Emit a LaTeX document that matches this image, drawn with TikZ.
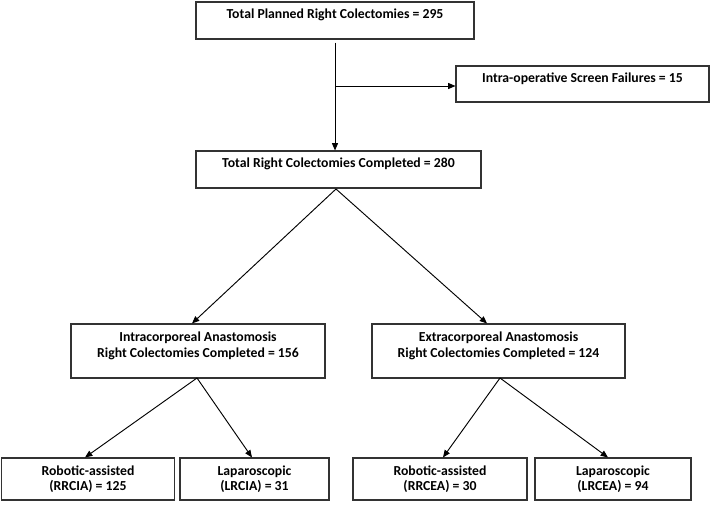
\documentclass[tikz,border=0pt]{standalone}
\usepackage{fontspec}
\setmainfont{Carlito}
\usetikzlibrary{arrows.meta}
\begin{document}
\begin{tikzpicture}[x=0.75pt,y=-0.75pt,
  box/.style={draw=black!80,line width=0.8pt,inner sep=0pt,fill=white},
  txt/.style={inner sep=0pt,align=center,font=\bfseries\fontsize{10.3}{12}\selectfont},
  txtb/.style={inner sep=0pt,align=center,font=\bfseries\fontsize{10.3}{11.3}\selectfont},
  arr/.style={line width=0.7pt,-{Triangle[length=5.5pt,width=4.5pt]}}]
\useasboundingbox[fill=white] (0,0) rectangle (710,504);
% boxes
\node[box,minimum width=208.5pt,minimum height=27.75pt] (top) at (335,20.5) {};
\node[box,minimum width=189.75pt,minimum height=27pt] (fail) at (582.5,84) {};
\node[box,minimum width=213.75pt,minimum height=27.75pt] (tot) at (338.5,169.5) {};
\node[box,minimum width=190.5pt,minimum height=40.5pt] (intra) at (198,351) {};
\node[box,minimum width=189.75pt,minimum height=40.5pt] (extra) at (498.5,351) {};
\node[box,minimum width=129.4pt,minimum height=31.5pt] (b1) at (88,479) {};
\node[box,minimum width=111.75pt,minimum height=31.5pt] (b2) at (254.5,479) {};
\node[box,minimum width=130.5pt,minimum height=31.5pt] (b3) at (440,479) {};
\node[box,minimum width=117pt,minimum height=31.5pt] (b4) at (613,479) {};
% texts
\node[txt] (ttop) at (335,15) {Total Planned Right Colectomies = 295};
\node[txt] (tfail) at (582.5,79) {Intra-operative Screen Failures = 15};
\node[txt] (ttot) at (338.5,164) {Total Right Colectomies Completed = 280};
\node[txt] (tintra) at (198,346) {Intracorporeal Anastomosis\\Right Colectomies Completed = 156};
\node[txt] (textra) at (498.5,346) {Extracorporeal Anastomosis\\Right Colectomies Completed = 124};
\node[txtb] (tb1) at (88,479.5) {Robotic-assisted\\(RRCIA) = 125};
\node[txtb] (tb2) at (254.5,479.5) {Laparoscopic\\(LRCIA) = 31};
\node[txtb] (tb3) at (440,479.5) {Robotic-assisted\\(RRCEA) = 30};
\node[txtb] (tb4) at (613,479.5) {Laparoscopic\\(LRCEA) = 94};
% connectors
\coordinate (br) at (335,86);
\coordinate (apex) at (336,189);
\coordinate (iapex) at (197,378);
\coordinate (eapex) at (500,378);
\draw[arr,shorten <=2.25pt] (top.south) -- (top.south |- tot.north);
\draw[arr] (br) -- (br -| fail.west);
\draw[arr] (apex) -- ([xshift=-4.5pt]intra.north);
\draw[arr] (apex) -- ([xshift=-8.6pt]extra.north);
\draw[arr] (iapex) -- ([xshift=-2.25pt]b1.north);
\draw[arr] (iapex) -- ([xshift=-1.9pt]b2.north);
\draw[arr] (eapex) -- ([xshift=2.25pt]b3.north);
\draw[arr] (eapex) -- ([xshift=-3.75pt]b4.north);
\end{tikzpicture}
\end{document}
